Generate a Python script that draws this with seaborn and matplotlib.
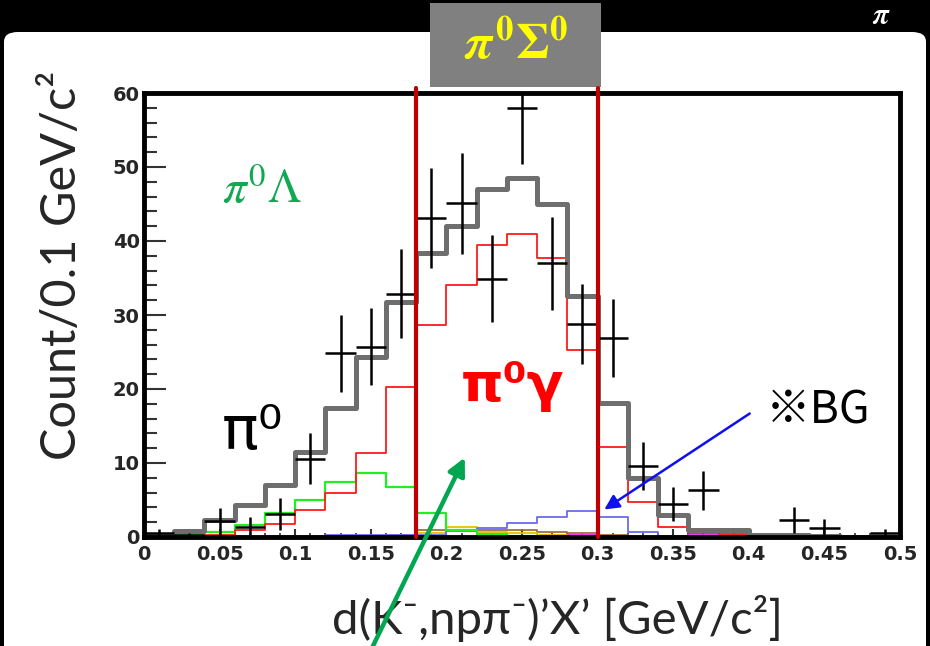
import numpy as np
import pandas as pd
import matplotlib
matplotlib.use("Agg")
import matplotlib.pyplot as plt
from matplotlib.patches import FancyBboxPatch, Rectangle, FancyArrowPatch
import seaborn as sns

# ---- histogram contents (bins of 0.02 GeV/c^2 from 0 to 0.5) ----
bin_edges = [round(0.02 * i, 2) for i in range(26)]
bin_centers = [round(0.02 * i + 0.01, 3) for i in range(25)]

total_fit = [0.3, 0.8, 2.3, 4.3, 7.0, 11.5, 17.4, 24.3, 31.8, 38.4, 42.0, 47.0, 48.5,
             45.0, 32.6, 18.1, 8.0, 3.0, 1.0, 1.0, 0.3, 0.3, 0.1, 0.0, 0.0]
pi0_gamma = [0.0, 0.0, 0.3, 0.9, 1.8, 3.6, 5.9, 11.3, 20.3, 28.6, 34.0, 39.5, 41.0,
             37.7, 25.3, 12.2, 4.7, 1.4, 0.5, 0.4, 0.2, 0.1, 0.0, 0.0, 0.0]
pi0_lambda = [0.0, 0.3, 0.7, 1.6, 3.2, 5.0, 7.4, 8.6, 6.8, 3.2, 0.9, 0.4, 0.2,
              0.1, 0.0, 0.0, 0.0, 0.0, 0.0, 0.0, 0.0, 0.0, 0.0, 0.0, 0.0]
bg_main = [0.0, 0.0, 0.0, 0.0, 0.15, 0.15, 0.3, 0.3, 0.3, 0.3, 0.8, 1.2, 1.9,
           2.7, 3.5, 2.7, 0.7, 0.2, 0.1, 0.0, 0.0, 0.0, 0.0, 0.0, 0.0]
bg_gold = [0.0, 0.0, 0.0, 0.0, 0.0, 0.0, 0.0, 0.0, 0.0, 0.5, 1.3, 0.7, 0.6,
           0.3, 0.2, 0.0, 0.0, 0.0, 0.0, 0.0, 0.0, 0.0, 0.0, 0.0, 0.0]
bg_brown = [0.0, 0.0, 0.0, 0.0, 0.0, 0.0, 0.0, 0.0, 0.3, 1.0, 1.0, 1.0, 1.0,
            0.7, 0.5, 0.3, 0.0, 0.0, 0.0, 0.0, 0.0, 0.0, 0.0, 0.0, 0.0]
bg_magenta = [0.0, 0.0, 0.0, 0.0, 0.0, 0.0, 0.0, 0.0, 0.0, 0.0, 0.0, 0.0, 0.0,
              0.3, 0.3, 0.2, 0.0, 0.2, 0.3, 0.3, 0.0, 0.0, 0.0, 0.0, 0.0]

# ---- measured points ----
data_x = [0.01, 0.03, 0.05, 0.07, 0.09, 0.11, 0.13, 0.15, 0.17, 0.19, 0.21, 0.23,
          0.25, 0.27, 0.29, 0.31, 0.33, 0.35, 0.37, 0.43, 0.45, 0.49]
data_y = [0.6, 0.3, 2.1, 1.3, 3.1, 10.6, 24.8, 25.7, 32.9, 43.1, 45.1, 34.9,
          58.0, 37.0, 28.8, 26.9, 9.6, 4.4, 6.3, 2.3, 1.2, 0.5]
data_err = [0.5, 0.3, 1.8, 1.4, 2.2, 3.4, 5.2, 5.2, 6.0, 6.8, 6.8, 5.9,
            7.6, 6.3, 5.4, 5.3, 3.2, 2.3, 2.6, 1.7, 1.2, 0.6]

x_ticks = [0, 0.05, 0.1, 0.15, 0.2, 0.25, 0.3, 0.35, 0.4, 0.45, 0.5]
x_tick_labels = ["0", "0.05", "0.1", "0.15", "0.2", "0.25", "0.3", "0.35", "0.4", "0.45", "0.5"]
y_ticks = [0, 10, 20, 30, 40, 50, 60]
window_edges = [0.18, 0.30]

hist = pd.DataFrame({
    "mass": bin_centers,
    "total": total_fit,
    "pi0gamma": pi0_gamma,
    "pi0lambda": pi0_lambda,
    "bg": bg_main,
    "bg_gold": bg_gold,
    "bg_brown": bg_brown,
    "bg_magenta": bg_magenta,
})

sns.set_style("white")
plt.rcParams["font.family"] = ["DejaVu Sans"]
# bold serif math for the title box
plt.rcParams["mathtext.it"] = "STIXGeneral:italic:bold"
plt.rcParams["mathtext.rm"] = "STIXGeneral:bold"
plt.rcParams["mathtext.bf"] = "STIXGeneral:bold"

W, H = 930, 646
fig = plt.figure(figsize=(W / 100, H / 100), dpi=100)
fig.patch.set_facecolor("black")


def fx(px):
    return px / W


def fy(py):
    return 1 - py / H


# slide body (white, rounded top-left corner) over the dark header
fig.patches.append(FancyBboxPatch((fx(4), fy(900)), fx(922), (900 - 32) / H,
                                  boxstyle="round,pad=0,rounding_size=0.015",
                                  transform=fig.transFigure, facecolor="white",
                                  edgecolor="none", zorder=-10))
# grey title box
fig.patches.append(Rectangle((fx(430), fy(87)), fx(171), 84 / H,
                             transform=fig.transFigure, facecolor="#808080",
                             edgecolor="none", zorder=-5))
fig.text(fx(516), fy(45), r"$\pi^0\Sigma^0$", color="#ffff00", fontsize=36,
         math_fontfamily="custom", ha="center", va="center")
fig.text(fx(880), fy(16), "π", color="white", fontsize=21,
         family=["STIXGeneral", "DejaVu Serif"], style="italic", weight="bold",
         ha="center", va="center")

ax = fig.add_axes([fx(144), fy(537), (900 - 144) / W, (537 - 93) / H])
ax.set_facecolor("white")

component_styles = [
    ("bg_magenta", "#ee22ee", 1.3),
    ("bg_brown", "#a0703a", 1.3),
    ("bg_gold", "#e8c000", 1.3),
    ("bg", "#6a6aee", 1.3),
    ("pi0lambda", "#22ee22", 1.6),
    ("pi0gamma", "#ff1a1a", 1.3),
    ("total", "#6e6e6e", 3.6),
]
for col, colour, lw in component_styles:
    sns.histplot(data=hist, x="mass", weights=col, bins=bin_edges, element="step",
                 fill=False, color=colour, linewidth=lw, ax=ax)

ax.errorbar(data_x, data_y, yerr=data_err, xerr=0.01, fmt="none",
            ecolor="black", elinewidth=1.8, capsize=0, zorder=5)

for xe in window_edges:
    ax.axvline(xe, ymin=0, ymax=1.012, color="#c00000", linewidth=3.0,
               clip_on=False, zorder=6)

ax.set_xlim(0, 0.5)
ax.set_ylim(0, 60)
ax.set_xticks(x_ticks)
ax.set_xticklabels(x_tick_labels)
ax.set_yticks(y_ticks)
ax.set_xticks(np.arange(0, 0.5001, 0.01), minor=True)
ax.set_yticks(np.arange(0, 60.001, 2), minor=True)
ax.tick_params(axis="y", which="major", direction="in", length=16, width=1.5,
               color="#333333", pad=3)
ax.tick_params(axis="y", which="minor", direction="in", length=9, width=1.5,
               color="#333333")
ax.tick_params(axis="x", which="major", direction="in", length=6, width=1.5,
               color="#333333", pad=6)
ax.tick_params(axis="x", which="minor", direction="in", length=3, width=1.2,
               color="#333333")
ax.tick_params(left=True, bottom=True, which="both")
for lab in ax.get_xticklabels() + ax.get_yticklabels():
    lab.set_fontsize(14)
    lab.set_fontweight("bold")
ax.set_xlabel("")
ax.set_ylabel("")
for sp in ax.spines.values():
    sp.set_visible(True)
    sp.set_color("black")
    sp.set_linewidth(3.5)

# axis titles in slide font
fig.text(fx(62), fy(265), "Count/0.1 GeV/c²", rotation=90, fontsize=35,
         family=["Lato", "DejaVu Sans"], ha="center", va="center")
fig.text(fx(557), fy(618), "d(K⁻,npπ⁻)’X’ [GeV/c²]", fontsize=34,
         family=["Lato", "DejaVu Sans"], ha="center", va="center")

# component labels
fig.text(fx(262), fy(190), r"$\pi^0\Lambda$", color="#10a850", fontsize=34,
         math_fontfamily="stix", ha="center", va="center")
fig.text(fx(252), fy(433), "π⁰", color="black", fontsize=44,
         family=["DejaVu Sans"], ha="center", va="center")
fig.text(fx(512), fy(386), "π⁰γ", color="#ff0000", fontsize=39, weight="bold",
         family=["DejaVu Sans"], ha="center", va="center")
fig.text(fx(818), fy(411), "※BG", color="black", fontsize=32,
         family=["Noto Sans CJK JP", "DejaVu Sans"], ha="center", va="center")

# pointers
fig.add_artist(FancyArrowPatch(
    (fx(752), fy(412)), (fx(602), fy(511)), transform=fig.transFigure,
    arrowstyle="-|>", mutation_scale=22, color="#1010ee", linewidth=1.8, zorder=10))
fig.add_artist(FancyArrowPatch(
    (fx(371), fy(650)), (fx(466), fy(455)), transform=fig.transFigure,
    arrowstyle="-|>", mutation_scale=26, color="#00a650", linewidth=3.2, zorder=10))

fig.savefig("out.png", dpi=100, facecolor=fig.get_facecolor())
